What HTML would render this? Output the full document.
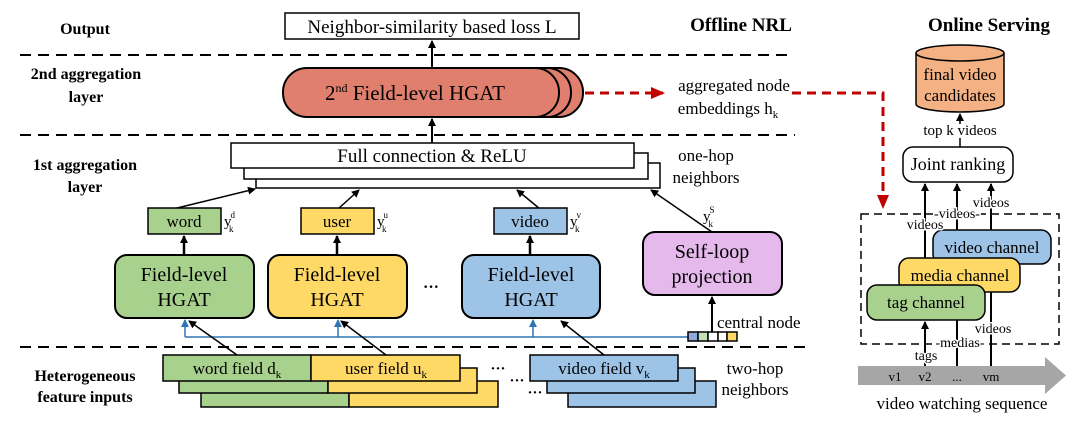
<!DOCTYPE html>
<html><head><meta charset="utf-8"><style>
body{margin:0;background:#fff}
svg{display:block;font-family:"Liberation Serif",serif}
</style></head><body>
<svg width="1080" height="423" viewBox="0 0 1080 423" xmlns="http://www.w3.org/2000/svg">
<defs>
<marker id="a" markerWidth="8" markerHeight="8" refX="7" refY="4" orient="auto" markerUnits="userSpaceOnUse"><path d="M0,0 L8,4 L0,8 z" fill="#000"/></marker>
<marker id="b" markerWidth="8" markerHeight="8" refX="7" refY="4" orient="auto" markerUnits="userSpaceOnUse"><path d="M0,0 L8,4 L0,8 z" fill="#2e75b6"/></marker>
<marker id="r" markerWidth="14" markerHeight="12" refX="12" refY="6" orient="auto" markerUnits="userSpaceOnUse"><path d="M0,0 L14,6 L0,12 z" fill="#c00000"/></marker>
</defs>
<g font-weight="bold" font-size="16" text-anchor="middle">
<text x="85" y="34">Output</text>
<text x="86" y="79">2nd aggregation</text><text x="86" y="102">layer</text>
<text x="85" y="170">1st aggregation</text><text x="85" y="192">layer</text>
<text x="85" y="381">Heterogeneous</text><text x="85" y="402">feature inputs</text>
<text x="741" y="31" font-size="19">Offline NRL</text>
<text x="989" y="31" font-size="19">Online Serving</text>
</g>
<g stroke="#000" stroke-width="2" stroke-dasharray="11,7" fill="none">
<line x1="20" y1="55" x2="790" y2="55"/><line x1="20" y1="135" x2="795" y2="135"/><line x1="20" y1="347" x2="810" y2="347"/>
</g>
<rect x="285" y="13" width="294" height="26" fill="#fff" stroke="#000" stroke-width="1.5"/>
<text x="432" y="33" font-size="19" text-anchor="middle">Neighbor-similarity based loss L</text>
<line x1="432" y1="68" x2="432" y2="41" stroke="#000" stroke-width="2" marker-end="url(#a)"/>
<rect x="307" y="68" width="276" height="49" rx="24" fill="#e07f6e" stroke="#000" stroke-width="2"/>
<rect x="295" y="68" width="276" height="49" rx="24" fill="#e07f6e" stroke="#000" stroke-width="2"/>
<rect x="283" y="68" width="276" height="49" rx="24" fill="#e07f6e" stroke="#000" stroke-width="2"/>
<text x="415" y="100" font-size="21" text-anchor="middle">2<tspan font-size="12" dy="-8">nd</tspan><tspan dy="8"> Field-level HGAT</tspan></text>
<line x1="432" y1="143" x2="432" y2="119" stroke="#000" stroke-width="2" marker-end="url(#a)"/>
<line x1="585" y1="93" x2="663" y2="93" stroke="#c00000" stroke-width="3" stroke-dasharray="9,6" marker-end="url(#r)"/>
<text x="734" y="91" font-size="17" text-anchor="middle">aggregated node</text>
<text x="728" y="114" font-size="17" text-anchor="middle">embeddings h<tspan font-size="11" dy="4">k</tspan></text>
<path d="M792,93 H883 V207" stroke="#c00000" stroke-width="3" stroke-dasharray="9,6" fill="none" marker-end="url(#r)"/>
<rect x="256" y="163" width="404" height="25" fill="#fff" stroke="#000" stroke-width="1.5"/>
<rect x="244" y="153" width="404" height="26" fill="#fff" stroke="#000" stroke-width="1.5"/>
<rect x="231" y="143" width="403" height="25" fill="#fff" stroke="#000" stroke-width="1.5"/>
<text x="432" y="162" font-size="19" text-anchor="middle">Full connection &amp; ReLU</text>
<text x="706" y="161" font-size="17" text-anchor="middle">one-hop</text>
<text x="706" y="183" font-size="17" text-anchor="middle">neighbors</text>
<g stroke="#000" stroke-width="1.5" marker-end="url(#a)">
<line x1="173" y1="209" x2="255" y2="189"/><line x1="338" y1="209" x2="359" y2="190"/>
<line x1="540" y1="209" x2="517" y2="190"/><line x1="712" y1="232" x2="651" y2="190"/>
</g>
<g stroke="#000" stroke-width="1.5" font-size="16">
<rect x="148" y="208" width="73" height="26" fill="#a9d18e"/>
<rect x="301" y="208" width="73" height="26" fill="#ffd966"/>
<rect x="494" y="208" width="73" height="26" fill="#9dc3e6"/>
</g>
<g font-size="17" text-anchor="middle">
<text x="184" y="227">word</text><text x="337" y="227">user</text><text x="530" y="227">video</text>
</g>
<g font-size="15">
<text x="224" y="226">y<tspan font-size="9" dx="-1" dy="-8">d</tspan><tspan font-size="9" dx="-6" dy="14">k</tspan></text>
<text x="377" y="226">y<tspan font-size="9" dx="-1" dy="-8">u</tspan><tspan font-size="9" dx="-6" dy="14">k</tspan></text>
<text x="570" y="226">y<tspan font-size="9" dx="-1" dy="-8">v</tspan><tspan font-size="9" dx="-6" dy="14">k</tspan></text>
<text x="703" y="221">y<tspan font-size="9" dx="-1" dy="-8">S</tspan><tspan font-size="9" dx="-6" dy="14">k</tspan></text>
</g>
<g stroke="#000" stroke-width="2.5" marker-end="url(#a)">
<line x1="184" y1="255" x2="184" y2="236"/><line x1="337" y1="255" x2="337" y2="236"/><line x1="530" y1="255" x2="530" y2="236"/>
</g>
<g stroke="#000" stroke-width="2">
<rect x="115" y="255" width="139" height="63" rx="12" fill="#a9d18e"/>
<rect x="268" y="255" width="139" height="63" rx="12" fill="#ffd966"/>
<rect x="462" y="255" width="138" height="63" rx="12" fill="#9dc3e6"/>
<rect x="643" y="232" width="139" height="63" rx="12" fill="#e6b9ec"/>
</g>
<g font-size="20" text-anchor="middle">
<text x="184" y="281">Field-level</text><text x="184" y="306">HGAT</text>
<text x="337" y="281">Field-level</text><text x="337" y="306">HGAT</text>
<text x="531" y="281">Field-level</text><text x="531" y="306">HGAT</text>
<text x="712" y="258">Self-loop</text><text x="712" y="283">projection</text>
<text x="431" y="292" font-size="16" font-weight="bold">···</text>
</g>
<path d="M185,337 H688" stroke="#2e75b6" stroke-width="1.5" fill="none"/>
<g stroke="#2e75b6" stroke-width="1.5" marker-end="url(#b)">
<line x1="185" y1="337" x2="185" y2="320"/><line x1="338" y1="337" x2="338" y2="320"/><line x1="533" y1="337" x2="533" y2="320"/>
</g>
<g stroke="#000" stroke-width="1.5" marker-end="url(#a)">
<line x1="237" y1="355" x2="189" y2="321"/><line x1="386" y1="355" x2="341" y2="321"/><line x1="604" y1="355" x2="561" y2="321"/>
<line x1="712" y1="332" x2="712" y2="297" stroke-width="2"/>
</g>
<g stroke="#000" stroke-width="1.5">
<rect x="688" y="332" width="10" height="9" fill="#8faadc"/><rect x="698" y="332" width="10" height="9" fill="#c5e0b4"/>
<rect x="708" y="332" width="10" height="9" fill="#fff"/><rect x="718" y="332" width="9" height="9" fill="#fff"/>
<rect x="727" y="332" width="10" height="9" fill="#ffd966"/>
</g>
<text x="717" y="328" font-size="17">central node</text>
<g stroke="#000" stroke-width="1.5">
<rect x="201" y="381" width="148" height="26" fill="#a9d18e"/><rect x="349" y="381" width="149" height="26" fill="#ffd966"/>
<rect x="179" y="368" width="149" height="25" fill="#a9d18e"/><rect x="328" y="368" width="149" height="25" fill="#ffd966"/>
<rect x="163" y="355" width="148" height="26" fill="#a9d18e"/><rect x="311" y="355" width="149" height="26" fill="#ffd966"/>
<rect x="568" y="381" width="148" height="26" fill="#9dc3e6"/>
<rect x="547" y="368" width="148" height="25" fill="#9dc3e6"/>
<rect x="530" y="355" width="148" height="26" fill="#9dc3e6"/>
</g>
<g font-size="17" text-anchor="middle">
<text x="237" y="374">word field d<tspan font-size="11" dy="4">k</tspan></text>
<text x="386" y="374">user field u<tspan font-size="11" dy="4">k</tspan></text>
<text x="604" y="374">video field v<tspan font-size="11" dy="4">k</tspan></text>
<text x="755" y="374">two-hop</text><text x="755" y="395">neighbors</text>
</g>
<g font-size="15" font-weight="bold" text-anchor="middle">
<text x="498" y="373">···</text><text x="517" y="385">···</text><text x="535" y="397">···</text>
</g>
<!-- online -->
<path d="M916,53 V104 A44,8 0 0 0 1004,104 V53" fill="#f4b183" stroke="#000" stroke-width="1.5"/>
<ellipse cx="960" cy="53" rx="44" ry="8" fill="#f4b183" stroke="#000" stroke-width="1.5"/>
<text x="960" y="80" font-size="17" text-anchor="middle">final video</text>
<text x="960" y="101" font-size="17" text-anchor="middle">candidates</text>
<line x1="960" y1="147" x2="960" y2="138" stroke="#000" stroke-width="1.5"/>
<line x1="960" y1="124" x2="960" y2="114" stroke="#000" stroke-width="1.5" marker-end="url(#a)"/>
<text x="960" y="135" font-size="15" text-anchor="middle">top k videos</text>
<rect x="903" y="147" width="110" height="35" rx="10" fill="#fff" stroke="#000" stroke-width="1.5"/>
<text x="958" y="170" font-size="18" text-anchor="middle">Joint ranking</text>
<rect x="861" y="214" width="198" height="130" fill="none" stroke="#000" stroke-width="1.5" stroke-dasharray="8,5"/>
<g stroke="#000" stroke-width="2" marker-end="url(#a)">
<line x1="925" y1="285" x2="925" y2="184"/><line x1="957" y1="258" x2="957" y2="184"/><line x1="991" y1="230" x2="991" y2="184"/>
<line x1="925" y1="366" x2="925" y2="322"/>
</g>
<g stroke="#000" stroke-width="2"><line x1="957" y1="366" x2="957" y2="292"/><line x1="991" y1="366" x2="991" y2="264"/></g>
<g stroke="#000" stroke-width="1.5">
<rect x="933" y="230" width="118" height="34" rx="10" fill="#9dc3e6"/>
<rect x="899" y="258" width="121" height="34" rx="10" fill="#ffd966"/>
<rect x="867" y="285" width="118" height="35" rx="10" fill="#a9d18e"/>
</g>
<g font-size="17" text-anchor="middle">
<text x="992" y="253">video channel</text><text x="960" y="281">media channel</text><text x="926" y="308">tag channel</text>
</g>
<g font-size="14" text-anchor="middle">
<text x="925" y="229" fill="#000" stroke="#fff" stroke-width="3" paint-order="stroke">videos</text>
<text x="957" y="218" stroke="#fff" stroke-width="3" paint-order="stroke">-videos-</text>
<text x="991" y="207" stroke="#fff" stroke-width="3" paint-order="stroke">videos</text>
<text x="993" y="333" stroke="#fff" stroke-width="3" paint-order="stroke">videos</text>
<text x="960" y="347" stroke="#fff" stroke-width="3" paint-order="stroke">-medias-</text>
<text x="926" y="360" stroke="#fff" stroke-width="3" paint-order="stroke">tags</text>
</g>
<path d="M858,366 H1045 V357 L1066,375.5 L1045,394 V385 H858 z" fill="#a6a6a6"/>
<g font-size="13" text-anchor="middle">
<text x="895" y="381">v1</text><text x="925" y="381">v2</text><text x="957" y="381">...</text><text x="991" y="381">vm</text>
</g>
<text x="962" y="409" font-size="17" text-anchor="middle">video watching sequence</text>
</svg>
</body></html>
